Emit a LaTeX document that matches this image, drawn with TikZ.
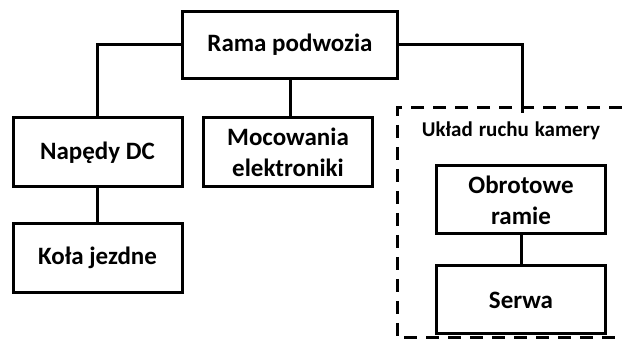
\documentclass[tikz,border=0pt]{standalone}
\usepackage{fontspec}
\setmainfont{Carlito}
\begin{document}
\begin{tikzpicture}[x=1pt,y=-1pt,
  box/.style={draw=black,line width=3pt,minimum width=169pt,minimum height=69pt,inner sep=0pt,align=center,
    font=\fontsize{25}{31}\selectfont\bfseries},
  conn/.style={draw=black,line width=3pt},
  grp/.style={draw=black,line width=3pt,dash pattern=on 13pt off 9pt},
  lbl/.style={inner sep=0pt,font=\fontsize{21}{25}\selectfont\bfseries}]
\useasboundingbox (0,0) rectangle (622,347);
\node[box,minimum width=215pt,minimum height=67pt] (rama) at (290,45) {Rama podwozia};
\node[box] (naped) at (97.5,152.5) {Napędy DC};
\node[box] (moc) at (288,152.5) {Mocowania\\elektroniki};
\node[box] (kola) at (97.5,258) {Koła jezdne};
\node[box,minimum height=68pt] (obr) at (521,200) {Obrotowe\\ramie};
\node[box,minimum height=68pt] (serwa) at (521,300) {Serwa};
\node[lbl] (uklad) at (511,131) {Układ\hspace{6pt}ruchu\hspace{6pt}kamery};
\coordinate (gtl) at (397,108);
\coordinate (gtr) at (622,108);
\coordinate (gbl) at (397,338);
\coordinate (gbr) at (622,338);
\coordinate (cam) at (522,113);
\draw[grp] (gtr) -- (gtl) -- (gbl) -- (gbr);
\draw[conn] (rama.west) -| (naped.north);
\draw[conn] (rama.south) -- (rama.south |- moc.north);
\draw[conn] (rama.east) -| (cam);
\draw[conn] (naped.south) -- (kola.north);
\draw[conn] (obr.south) -- (serwa.north);
\end{tikzpicture}
\end{document}
